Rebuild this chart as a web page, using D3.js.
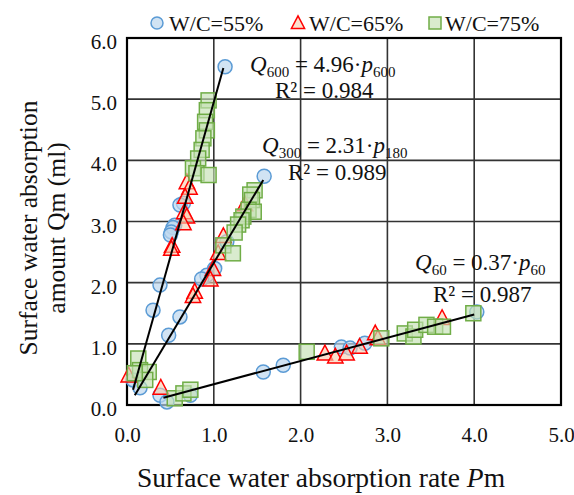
<!DOCTYPE html>
<html><head><meta charset="utf-8">
<script src="https://cdn.jsdelivr.net/npm/d3@7"></script>
<style>
html,body{margin:0;padding:0;background:#fff;}
svg{display:block;font-family:"Liberation Serif","Times New Roman",serif;}
</style></head>
<body><svg id="c" width="574" height="495"></svg>
<script>
// ---- data ----
const seriesNames = ["W/C=55%", "W/C=65%", "W/C=75%"];
const xTickValues = [0, 1, 2, 3, 4, 5];
const yTickValues = [0, 1, 2, 3, 4, 5, 6];

const wc55 = [
  [1.13,5.53],[0.65,3.30],[0.61,3.27],[0.55,2.94],[0.53,2.90],[0.51,2.83],[0.50,2.78],
  [0.38,1.96],[0.30,1.55],[0.07,0.41],[0.15,0.28],
  [1.58,3.74],[1.15,2.67],[1.01,2.23],[0.92,2.12],[0.86,2.06],[0.61,1.44],[0.48,1.14],
  [0.38,0.16],[0.46,0.05],[0.73,0.16],[1.57,0.54],[1.80,0.65],[2.47,0.95],[2.57,0.93],
  [2.74,1.01],[4.03,1.52]
];
const wc65 = [
  [0.69,3.64],[0.72,3.55],[0.67,3.40],[0.66,3.15],[0.69,3.08],[0.65,2.97],[0.52,2.60],[0.51,2.55],
  [1.36,3.28],[1.11,2.76],[1.05,2.48],[0.99,2.22],[0.96,2.05],[0.78,1.85],[0.76,1.78],
  [0.02,0.48],[0.39,0.28],
  [2.28,0.84],[2.40,0.79],[2.53,0.84],[2.68,0.95],[2.86,1.17],[2.89,1.09],[3.63,1.42]
];
const wc75 = [
  [0.94,4.98],[0.92,4.82],[0.90,4.63],[0.92,4.49],[0.88,4.36],[0.86,4.17],[0.82,4.03],
  [0.76,3.87],[0.80,3.79],[0.94,3.76],
  [1.47,3.51],[1.42,3.44],[1.44,3.35],[1.40,3.19],[1.46,3.16],[1.34,3.08],[1.32,3.02],
  [1.28,2.95],[1.24,2.82],[1.11,2.61],[1.22,2.48],
  [0.13,0.76],[0.15,0.57],[0.25,0.54],[0.21,0.41],[0.09,0.52],
  [0.55,0.11],[0.65,0.19],[0.73,0.25],
  [2.07,0.87],[2.93,1.09],[3.20,1.17],[3.30,1.12],[3.32,1.23],[3.45,1.31],[3.55,1.28],
  [3.64,1.28],[3.99,1.50]
];
// trend lines: [start, end]
const trend600 = [[0.07,0.25],[1.11,5.51]];
const trend300 = [[0.09,0.16],[1.57,3.68]];
const trend60  = [[0.42,0.12],[4.00,1.48]];

// ---- layout ----
const L = 127, T = 38, W = 434, H = 367;
const svg = d3.select("#c");
const x = d3.scaleLinear().domain([0,5]).range([L, L+W]);
const y = d3.scaleLinear().domain([0,6]).range([T+H, T]);

// grid
const g = svg.append("g");
g.selectAll(".vg").data(xTickValues.slice(1,-1)).join("line")
  .attr("x1", d=>x(d)).attr("x2", d=>x(d)).attr("y1", T).attr("y2", T+H)
  .attr("stroke", "#333").attr("stroke-width", 1.6);
g.selectAll(".hg").data(yTickValues.slice(1,-1)).join("line")
  .attr("x1", L).attr("x2", L+W).attr("y1", d=>y(d)).attr("y2", d=>y(d))
  .attr("stroke", "#333").attr("stroke-width", 1.6);

// axes (labels only)
const xAxis = svg.append("g").attr("transform", `translate(0,${T+H})`)
  .call(d3.axisBottom(x).tickValues(xTickValues).tickFormat(d3.format(".1f")).tickSize(0).tickPadding(22));
const yAxis = svg.append("g").attr("transform", `translate(${L},0)`)
  .call(d3.axisLeft(y).tickValues(yTickValues).tickFormat(d3.format(".1f")).tickSize(0).tickPadding(10));
[xAxis, yAxis].forEach(a => {
  a.select(".domain").remove();
  a.selectAll("text").attr("font-family", "Liberation Serif").attr("font-size", 21).attr("fill", "#111");
});
yAxis.selectAll("text").attr("dy", "0.5em");

// frame
svg.append("rect").attr("x", L).attr("y", T).attr("width", W).attr("height", H)
  .attr("fill", "none").attr("stroke", "#000").attr("stroke-width", 2.2);

// markers
const circleStyle = {fill:"rgba(189,215,238,0.7)", stroke:"#5b9bd5"};
const triStyle = {fill:"rgba(248,203,173,0.6)", stroke:"#ff0000"};
const sqStyle = {fill:"rgba(197,224,180,0.65)", stroke:"#70ad47"};

const mk = svg.append("g");
mk.selectAll(".c").data(wc55).join("circle")
  .attr("cx", d=>x(d[0])).attr("cy", d=>y(d[1])).attr("r", 7)
  .attr("fill", circleStyle.fill).attr("stroke", circleStyle.stroke).attr("stroke-width", 1.5);
const triPath = (cx, cy, s) => `M${cx},${cy - s*0.6}L${cx + s*0.55},${cy + s*0.45}L${cx - s*0.55},${cy + s*0.45}Z`;
mk.selectAll(".t").data(wc65).join("path")
  .attr("d", d=>triPath(x(d[0]), y(d[1]), 14))
  .attr("fill", triStyle.fill).attr("stroke", triStyle.stroke).attr("stroke-width", 1.5);
mk.selectAll(".s").data(wc75).join("rect")
  .attr("x", d=>x(d[0])-7.5).attr("y", d=>y(d[1])-7.5).attr("width", 15).attr("height", 15)
  .attr("fill", sqStyle.fill).attr("stroke", sqStyle.stroke).attr("stroke-width", 1.5);

// trend lines
const line = d3.line().x(d=>x(d[0])).y(d=>y(d[1]));
svg.selectAll(".tl").data([trend600, trend300, trend60]).join("path")
  .attr("d", line).attr("fill", "none").attr("stroke", "#000").attr("stroke-width", 2);

// legend
const lg = svg.append("g").attr("font-size", 22).attr("fill", "#111");
const legY = 23;
lg.append("circle").attr("cx", 157).attr("cy", legY).attr("r", 6)
  .attr("fill", circleStyle.fill).attr("stroke", circleStyle.stroke).attr("stroke-width", 1.5);
lg.append("path").attr("d", triPath(298, legY, 12))
  .attr("fill", triStyle.fill).attr("stroke", triStyle.stroke).attr("stroke-width", 1.5);
lg.append("rect").attr("x", 429).attr("y", legY-6).attr("width", 12).attr("height", 12)
  .attr("fill", sqStyle.fill).attr("stroke", sqStyle.stroke).attr("stroke-width", 1.5);
[169, 309, 445].forEach((lx, i) => {
  lg.append("text").attr("x", lx).attr("y", legY).attr("dy", "0.35em").text(seriesNames[i]);
});

// equations
function eq(xp, yp, q, c, p) {
  const t = svg.append("text").attr("x", xp).attr("y", yp).attr("font-size", 23).attr("fill", "#111");
  t.append("tspan").attr("font-style", "italic").text("Q");
  t.append("tspan").attr("font-size", 15).attr("dy", 5).text(q);
  t.append("tspan").attr("dy", -5).text(" = " + c + "\u00b7");
  t.append("tspan").attr("font-style", "italic").text("p");
  t.append("tspan").attr("font-size", 15).attr("dy", 5).text(p);
}
function r2(xp, yp, v) {
  svg.append("text").attr("x", xp).attr("y", yp).attr("font-size", 23).attr("fill", "#111")
    .text("R\u00b2 = " + v);
}
eq(250, 72, "600", "4.96", "600"); r2(275, 98, "0.984");
eq(262, 153, "300", "2.31", "180"); r2(288, 180, "0.989");
eq(415, 270, "60", "0.37", "60"); r2(433, 302, "0.987");

// axis titles
const xt = svg.append("text").attr("x", 321).attr("y", 487).attr("text-anchor", "middle")
  .attr("font-size", 27.5).attr("fill", "#111");
xt.append("tspan").text("Surface water absorption rate ");
xt.append("tspan").attr("font-style", "italic").text("P");
xt.append("tspan").text("m");
const yt = svg.append("text").attr("transform", "translate(37,228) rotate(-90)")
  .attr("text-anchor", "middle").attr("font-size", 25.5).attr("fill", "#111");
yt.append("tspan").attr("x", 0).attr("dy", 0).text("Surface water absorption");
yt.append("tspan").attr("x", 0).attr("dy", 28).text("amount Qm (ml)");
</script></body></html>
